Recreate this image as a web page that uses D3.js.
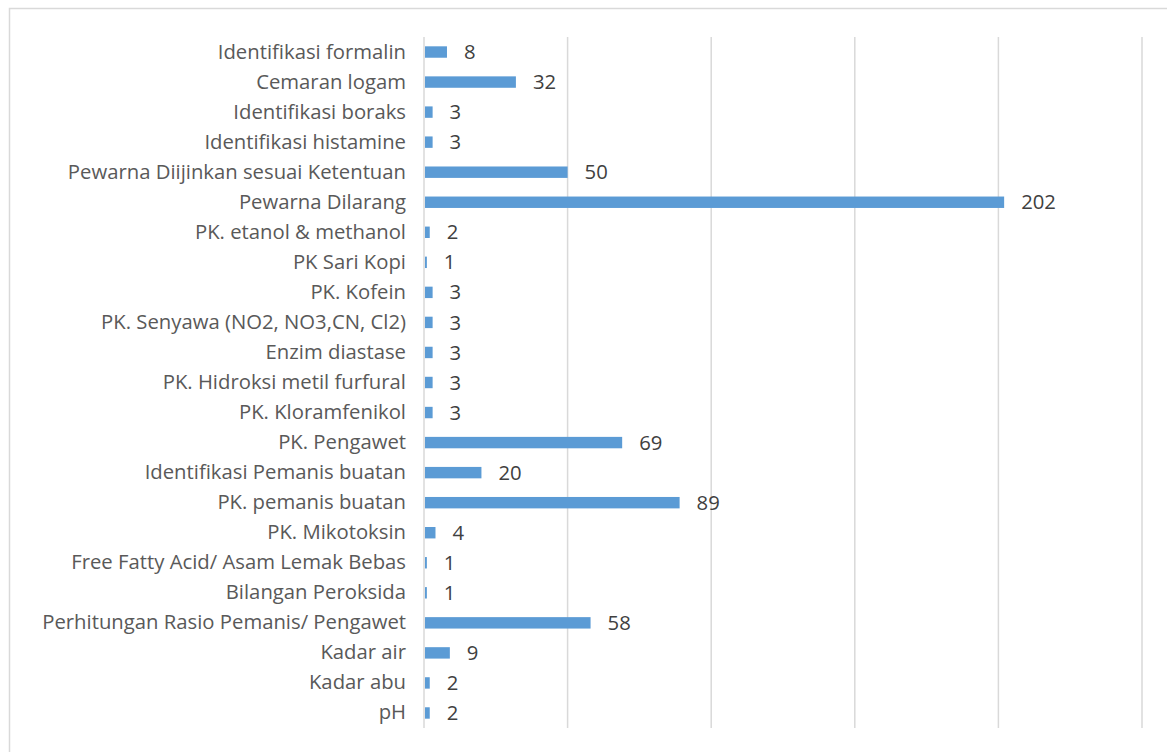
<!DOCTYPE html>
<html>
<head>
<meta charset="utf-8">
<script src="https://cdn.jsdelivr.net/npm/d3@7"></script>
<style>
  body { margin: 0; background: #fff; }
  text { font-family: "Open Sans", sans-serif; }
</style>
</head>
<body>
<svg id="chart" width="1167" height="752"></svg>
<script>
var categories = [
  "Identifikasi formalin",
  "Cemaran logam",
  "Identifikasi boraks",
  "Identifikasi histamine",
  "Pewarna Diijinkan sesuai Ketentuan",
  "Pewarna Dilarang",
  "PK. etanol & methanol",
  "PK Sari Kopi",
  "PK. Kofein",
  "PK. Senyawa (NO2, NO3,CN, Cl2)",
  "Enzim diastase",
  "PK. Hidroksi metil furfural",
  "PK. Kloramfenikol",
  "PK. Pengawet",
  "Identifikasi Pemanis buatan",
  "PK. pemanis buatan",
  "PK. Mikotoksin",
  "Free Fatty Acid/ Asam Lemak Bebas",
  "Bilangan Peroksida",
  "Perhitungan Rasio Pemanis/ Pengawet",
  "Kadar air",
  "Kadar abu",
  "pH"
];
var values = [8, 32, 3, 3, 50, 202, 2, 1, 3, 3, 3, 3, 3, 69, 20, 89, 4, 1, 1, 58, 9, 2, 2];
var gridTicks = [0, 50, 100, 150, 200, 250];

var svg = d3.select("#chart");
var w = 1167, h = 752;

// chart frame
svg.append("rect")
    .attr("x", 9.5).attr("y", 8.5)
    .attr("width", w + 10).attr("height", h + 10)
    .attr("fill", "none")
    .attr("stroke", "#d9d9d9")
    .attr("stroke-width", 1.5);

var x = d3.scaleLinear()
    .domain([0, 250])
    .range([424, 1142]);

var y = d3.scaleBand()
    .domain(categories)
    .range([37, 728])
    .paddingInner(0.62)
    .paddingOuter(0.31);

// gridlines
svg.append("g")
    .selectAll("line")
    .data(gridTicks)
    .enter().append("line")
    .attr("x1", function(d) { return x(d); })
    .attr("x2", function(d) { return x(d); })
    .attr("y1", 37)
    .attr("y2", 728)
    .attr("stroke", "#d9d9d9")
    .attr("stroke-width", 1.5);

// category axis
var yAxis = svg.append("g")
    .attr("transform", "translate(" + x(0) + ",0)")
    .call(d3.axisLeft(y).tickSize(0).tickPadding(18));
yAxis.select(".domain").remove();
yAxis.selectAll("text")
    .attr("fill", "#595959")
    .style("font-size", "20.3px");

var rows = svg.append("g")
    .selectAll(".bar")
    .data(values)
    .enter().append("g")
    .attr("class", "bar");

rows.append("rect")
    .attr("x", x(0) + 1)
    .attr("y", function(d, i) { return y(categories[i]); })
    .attr("width", function(d) { return x(d) - x(0) - 1; })
    .attr("height", y.bandwidth())
    .attr("fill", "#5b9bd5");

rows.append("text")
    .attr("x", function(d) { return x(d) + 17; })
    .attr("y", function(d, i) { return y(categories[i]) + y.bandwidth() / 2; })
    .attr("dy", ".35em")
    .attr("fill", "#404040")
    .style("font-size", "20.3px")
    .text(function(d) { return d; });
</script>
</body>
</html>
